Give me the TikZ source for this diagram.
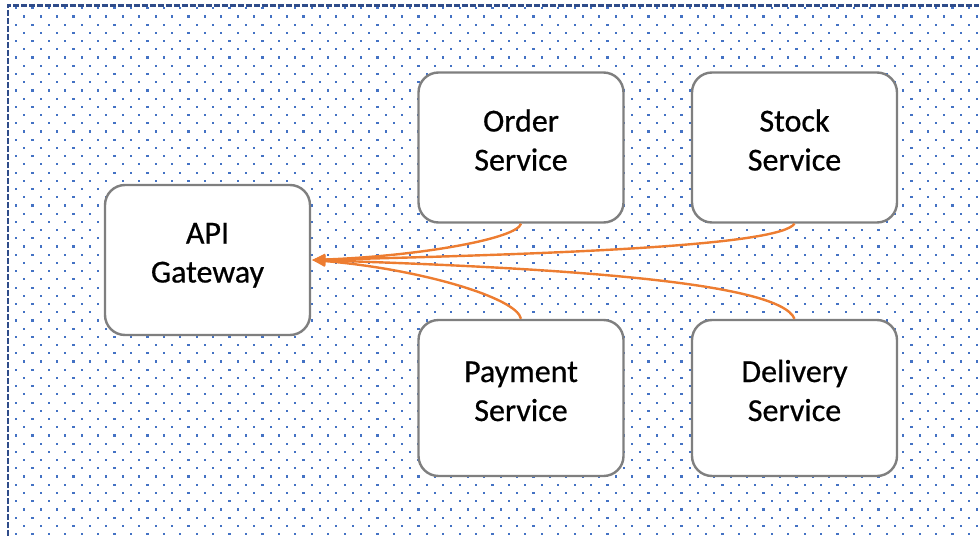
\documentclass[tikz,border=0pt]{standalone}
\usepackage{fontspec}
\setmainfont{Carlito}
\newfontfamily\labelfont{Carlito}[FakeBold=0.6]
\usetikzlibrary{arrows.meta}

\definecolor{dotblue}{HTML}{4472C4}
\definecolor{frameblue}{HTML}{2F4C8A}
\definecolor{boxgray}{HTML}{7F7F7F}
\definecolor{linkorange}{HTML}{ED7D31}

\tikzset{
  svcbox/.style={draw=boxgray, line width=2.4pt, fill=white, rounded corners=20pt,
    minimum width=205pt, minimum height=150pt, inner sep=0pt},
  svctext/.style={align=center, anchor=base, inner sep=0pt,
    font=\labelfont\fontsize{32}{39}\selectfont},
  link/.style={draw=linkorange, line width=2.4pt,
    -{Triangle[length=13pt,width=11pt]}},
  frame/.style={draw=frameblue, line width=2.4pt, dash pattern=on 6pt off 2pt}
}

\begin{document}
\begin{tikzpicture}[x=1pt, y=-1pt]
  \useasboundingbox (0,0) rectangle (979,535);
  \clip (0,0) rectangle (979,535);

  % dotted backdrop: staggered grid of small squares
  \foreach \i in {0,...,59} {
    \foreach \j in {0,...,32} {
      \fill[dotblue] ({16+16.43*\i-1.1},{8.3+16.43*\j-1.1}) rectangle ++(2.2,2.2);
      \fill[dotblue] ({24.2+16.43*\i-1.1},{16.5+16.43*\j-1.1}) rectangle ++(2.2,2.2);
    }
  }

  % dashed outer frame, running past the right and bottom edges
  \draw[frame] (1000,560) -- (8,560) -- (8,5.5) -- (1000,5.5);

  % boxes
  \node[svcbox] (gw)   at (207.5,260) {};
  \node[svcbox] (ord)  at (521,147.5) {};
  \node[svcbox] (stk)  at (794.5,147.5) {};
  \node[svcbox, minimum height=156pt] (pay) at (521,398) {};
  \node[svcbox, minimum height=156pt] (dlv) at (794.5,398) {};

  % labels (anchored on the baseline of the second line)
  \node[svctext] (gw-t)  at (207.5,282.5) {API\\Gateway};
  \node[svctext] (ord-t) at (521,170.5) {Order\\Service};
  \node[svctext] (stk-t) at (794.5,170.5) {Stock\\Service};
  \node[svctext] (pay-t) at (521,421) {Payment\\Service};
  \node[svctext] (dlv-t) at (794.5,421) {Delivery\\Service};

  % connectors into the gateway
  \coordinate (gw-in) at ([xshift=1pt]gw.east);
  \draw[link] (ord.south) .. controls +(-4,15) and (420,256) .. (gw-in);
  \draw[link] (stk.south) .. controls +(-15,22) and (560,254) .. (gw-in);
  \draw[link] (pay.north) .. controls +(-4,-21) and (420,269) .. (gw-in);
  \draw[link] (dlv.north) .. controls +(-15,-37) and (560,268) .. (gw-in);
\end{tikzpicture}
\end{document}
